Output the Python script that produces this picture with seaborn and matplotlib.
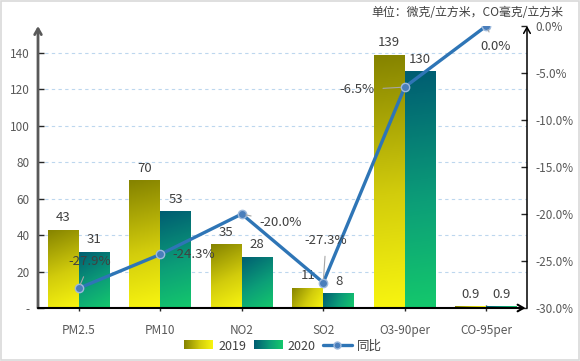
import numpy as np
import pandas as pd
import matplotlib
matplotlib.use("Agg")
import matplotlib.pyplot as plt
import seaborn as sns
from matplotlib.colors import LinearSegmentedColormap
from matplotlib.legend_handler import HandlerBase
from matplotlib.image import BboxImage
from matplotlib.transforms import Bbox, TransformedBbox
from matplotlib.lines import Line2D
from matplotlib.patches import Patch

# data
categories = ['PM2.5', 'PM10', 'NO2', 'SO2', 'O3-90per', 'CO-95per']
values_2019 = [43, 70, 35, 11, 139, 0.9]
values_2020 = [31, 53, 28, 8, 130, 0.9]
yoy_pct = [-27.9, -24.3, -20.0, -27.3, -6.5, 0.0]
left_ticks = [0, 20, 40, 60, 80, 100, 120, 140]
left_labels = ['-', '20', '40', '60', '80', '100', '120', '140']
right_ticks = [0, -5, -10, -15, -20, -25, -30]
unit_text = '单位：微克/立方米，CO毫克/立方米'

sns.set_theme(style='white')
plt.rcParams['font.family'] = ['Noto Sans CJK SC', 'DejaVu Sans']

cmap19 = LinearSegmentedColormap.from_list(
    'c19', [(0, '#858300'), (0.55, '#D2CC0C'), (1, '#F8F510')])
cmap20 = LinearSegmentedColormap.from_list(
    'c20', [(0, '#005D72'), (0.55, '#0C9E78'), (1, '#14C86C')])
TXT = '#404040'
TICK = '#595959'

df = pd.DataFrame({
    'category': categories * 2,
    'value': values_2019 + values_2020,
    'year': ['2019'] * len(categories) + ['2020'] * len(categories),
})

fig = plt.figure(figsize=(5.8, 3.61), dpi=100)
ax = fig.add_axes([38 / 580, 1 - 308 / 361, 489 / 580, 282 / 361])
sns.barplot(data=df, x='category', y='value', hue='year', order=categories,
            palette=['#C0C000', '#10A070'], width=0.76, legend=False, ax=ax)
ax.set_xlim(-0.5, 5.5)
ax.set_ylim(0, 154.8)

# pixel scale, used to orient each bar's diagonal gradient
px_x = 489 / 6.0
px_y = 282 / 154.8

for cont, cmap, vals in zip(ax.containers, [cmap19, cmap20], [values_2019, values_2020]):
    for bar, v in zip(cont.patches, vals):
        x0, w, h = bar.get_x(), bar.get_width(), bar.get_height()
        wp, hp = w * px_x, max(h * px_y, 0.5)
        U, V = np.meshgrid(np.linspace(0, 1, 40), np.linspace(0, 1, 80))
        xp, yt = U * wp, (1 - V) * hp      # yt measured from top
        t = (xp * wp + yt * hp) / (wp ** 2 + hp ** 2)
        img = ax.imshow(t, cmap=cmap, vmin=0, vmax=1, origin='lower',
                        extent=(x0, x0 + w, 0, h), aspect='auto',
                        interpolation='bilinear', zorder=2)
        img.set_clip_path(bar)
        bar.set_facecolor('none')
        bar.set_edgecolor('none')
        ax.annotate(f'{v:g}', (x0 + w / 2, h), xytext=(0, 4),
                    textcoords='offset points', ha='center', va='bottom',
                    fontsize=9.5, color=TXT)

ax.set_xlim(-0.5, 5.5)
ax.set_ylim(0, 154.8)
ax.set_xlabel('')
ax.set_ylabel('')
ax.set_yticks(left_ticks)
ax.set_yticklabels(left_labels)
ax.tick_params(axis='y', direction='in', length=4, width=1, color='#262626',
               labelsize=8.5, labelcolor=TICK, pad=6, left=True)
ax.tick_params(axis='x', direction='inout', length=5, width=1, color='#262626',
               labelsize=8.5, labelcolor=TICK, pad=9, bottom=True)
ax.grid(axis='y', color='#BDD7EE', linestyle=(0, (3, 3)), linewidth=0.8)
ax.set_axisbelow(True)
for s in ax.spines.values():
    s.set_visible(False)

# year-on-year line on secondary axis
ax2 = ax.twinx()
xpos = np.arange(len(categories))
yoy = np.array(yoy_pct) / 100
sns.lineplot(x=xpos, y=yoy, ax=ax2, color='#2E75B6', linewidth=2.4,
             marker='o', markersize=6, markerfacecolor='#4A7EBB',
             markeredgecolor='#9DB9DC', markeredgewidth=1)
ax2.set_ylim(-0.30, 0.0)
ax2.set_yticks(np.array(right_ticks) / 100)
ax2.set_yticklabels([f'{t:.1f}%' for t in right_ticks])
ax2.tick_params(axis='y', direction='in', length=4, width=1, color='#262626',
                labelsize=8.5, labelcolor=TICK, pad=6, right=True)
ax2.grid(False)
for s in ax2.spines.values():
    s.set_visible(False)

# line labels: (offset in points, ha, leader line)
label_pos = [((8, 19), 'center', True), ((9, 0), 'left', False),
             ((13, -6), 'left', True), ((2, 30), 'center', True),
             ((-22, -2), 'right', True), ((7, -15), 'center', True)]
for i, (p, (off, ha, lead)) in enumerate(zip(yoy_pct, label_pos)):
    arrow = dict(arrowstyle='-', color='#A6A6A6', lw=0.8, shrinkA=4, shrinkB=3) if lead else None
    ax2.annotate(f'{p:.1f}%', (i, p / 100), xytext=off, textcoords='offset points',
                 ha=ha, va='center', fontsize=9.5, color=TXT, arrowprops=arrow,
                 zorder=5)

# axis lines with arrow heads
ax2.annotate('', xy=(0, 1.0), xytext=(0, 0), xycoords='axes fraction',
             arrowprops=dict(arrowstyle='->,head_length=0.35,head_width=0.2',
                             color='#595959', lw=2, shrinkA=0, shrinkB=0))
ax2.annotate('', xy=(1, 1.0), xytext=(1, 0), xycoords='axes fraction',
             arrowprops=dict(arrowstyle='->,head_length=0.35,head_width=0.2',
                             color='black', lw=1.1, shrinkA=0, shrinkB=0))
ax2.annotate('', xy=(0.997, 0), xytext=(0, 0), xycoords='axes fraction',
             arrowprops=dict(arrowstyle='->,head_length=0.35,head_width=0.2',
                             color='black', lw=1.5, shrinkA=0, shrinkB=0))


class GradientHandler(HandlerBase):
    def __init__(self, cmap):
        super().__init__()
        self.cmap = cmap

    def create_artists(self, legend, orig_handle, xdescent, ydescent,
                       width, height, fontsize, trans):
        bb = TransformedBbox(Bbox.from_bounds(-xdescent, -ydescent, width, height), trans)
        img = BboxImage(bb, cmap=self.cmap, interpolation='bilinear')
        img.set_data(np.linspace(0, 1, 64)[None, :])
        return [img]


h19, h20 = Patch(label='2019'), Patch(label='2020')
hline = Line2D([], [], color='#2E75B6', lw=2.4, marker='o', markersize=5,
               markerfacecolor='#4A7EBB', markeredgecolor='#9DB9DC', label='同比')
fig.legend(handles=[h19, h20, hline], labels=['2019', '2020', '同比'],
           handler_map={h19: GradientHandler(cmap19), h20: GradientHandler(cmap20)},
           loc='center', bbox_to_anchor=(283 / 580, 1 - 346 / 361), ncol=3,
           frameon=False, fontsize=9, handlelength=2.3, handleheight=0.7,
           columnspacing=0.6, handletextpad=0.4, labelcolor=TXT)

fig.text(563 / 580, 1 - 12 / 361, unit_text, ha='right', va='center',
         fontsize=8.6, color=TXT)

fig.add_artist(plt.Rectangle((0.001, 0.002), 0.997, 0.996, transform=fig.transFigure,
                             fill=False, ec='#D9D9D9', lw=1.2))

fig.savefig('out.png', dpi=100)
